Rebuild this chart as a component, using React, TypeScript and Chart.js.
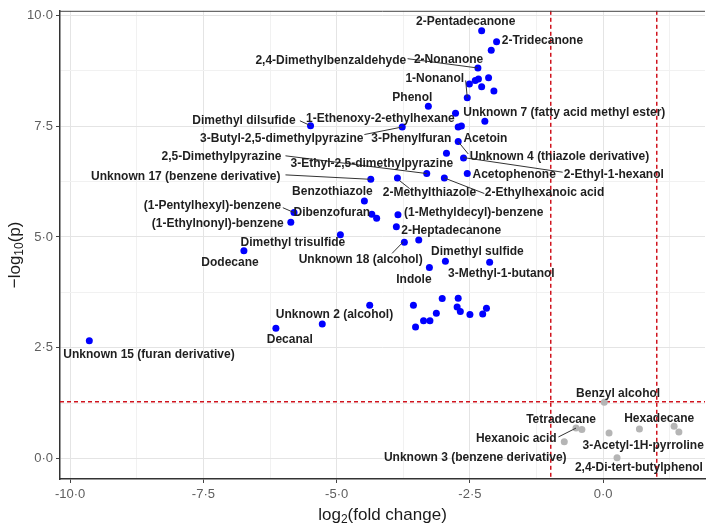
import React, { useEffect, useRef } from "react";
import { Chart, registerables } from "chart.js";

Chart.register(...registerables);

// Significant compounds (blue)
const sigLog2FC = [
  -2.28, -2.0, -2.1, -2.35, -2.15, -2.34, -2.4, -2.51, -2.55, -2.28, -2.05,
  -3.28, -2.77, -2.22, -2.72, -2.66, -3.77, -5.49, -2.72, -2.94, -2.62, -3.31,
  -2.55, -3.86, -2.98, -4.36, -3.85, -3.88, -3.73, -3.46, -4.48, -4.34, -4.25,
  -5.8, -5.86, -4.93, -3.26, -2.96, -2.13, -6.74, -4.38, -3.56, -3.52, -3.37,
  -3.25, -3.13, -3.02, -2.72, -2.74, -2.68, -2.5, -2.26, -2.19, -9.64, -6.14,
  -5.27,
];
const sigNegLogP = [
  9.65, 9.4, 9.21, 8.81, 8.59, 8.56, 8.53, 8.45, 8.14, 8.39, 8.29,
  7.95, 7.79, 7.61, 7.48, 7.5, 7.48, 7.51, 7.15, 6.89, 6.78, 6.43,
  6.43, 6.33, 6.33, 6.3, 5.5, 5.23, 4.88, 4.93, 5.81, 5.51, 5.42,
  5.55, 5.33, 5.05, 4.31, 4.45, 4.43, 4.69, 3.46, 3.46, 2.97, 3.11,
  3.11, 3.28, 3.61, 3.62, 3.42, 3.32, 3.25, 3.26, 3.39, 2.66, 2.94,
  3.04,
];

// Non-significant compounds (grey)
const nsLog2FC = [0.02, -0.51, -0.4, 0.11, -0.73, 0.68, 1.33, 1.42, 0.26];
const nsNegLogP = [1.27, 0.69, 0.66, 0.58, 0.38, 0.67, 0.73, 0.6, 0.02];

// Thresholds
const fcThresholds = [-1, 1];
const pThreshold = 1.301;

// Axis ticks
const xMajorTicks = [-10, -7.5, -5, -2.5, 0];
const yMajorTicks = [0, 2.5, 5, 7.5, 10];
const xAllGrid = [-10, -8.75, -7.5, -6.25, -5, -3.75, -2.5, -1.25, 0, 1.25];
const yAllGrid = [0, 1.25, 2.5, 3.75, 5, 6.25, 7.5, 8.75, 10];

// Compound labels (text centre, data coordinates)
const labelTexts = [
  "2-Pentadecanone", "2-Tridecanone", "2,4-Dimethylbenzaldehyde", "2-Nonanone",
  "1-Nonanol", "Phenol", "Unknown 7 (fatty acid methyl ester)", "Dimethyl dilsufide",
  "1-Ethenoxy-2-ethylhexane", "3-Butyl-2,5-dimethylpyrazine", "3-Phenylfuran", "Acetoin",
  "Unknown 4 (thiazole derivative)", "2,5-Dimethylpyrazine", "3-Ethyl-2,5-dimethylpyrazine",
  "Unknown 17 (benzene derivative)", "Acetophenone", "2-Ethyl-1-hexanol", "Benzothiazole",
  "2-Methylthiazole", "2-Ethylhexanoic acid", "(1-Pentylhexyl)-benzene", "Dibenzofuran",
  "(1-Ethylnonyl)-benzene", "(1-Methyldecyl)-benzene", "2-Heptadecanone",
  "Dimethyl trisulfide", "Dodecane", "Unknown 18 (alcohol)", "Dimethyl sulfide", "Indole",
  "3-Methyl-1-butanol", "Unknown 2 (alcohol)", "Decanal", "Unknown 15 (furan derivative)",
  "Benzyl alcohol", "Tetradecane", "Hexadecane", "Hexanoic acid", "3-Acetyl-1H-pyrroline",
  "Unknown 3 (benzene derivative)", "2,4-Di-tert-butylphenol",
];
const labelX = [
  -2.58, -1.14, -5.11, -2.9, -3.16, -3.58, -0.73, -6.74, -4.18, -6.03, -3.6, -2.21,
  -0.82, -7.16, -4.34, -7.83, -1.67, 0.2, -5.08, -3.26, -1.1, -7.33, -5.09, -7.23,
  -2.43, -2.85, -5.82, -7.0, -4.55, -2.36, -3.55, -1.91, -5.04, -5.88, -8.52, 0.28,
  -0.79, 1.05, -1.63, 0.75, -2.4, 0.67,
];
const labelY = [
  9.86, 9.42, 8.97, 9.0, 8.58, 8.15, 7.8, 7.62, 7.67, 7.22, 7.22, 7.22,
  6.8, 6.8, 6.65, 6.36, 6.41, 6.41, 6.03, 5.99, 5.99, 5.7, 5.54, 5.3,
  5.54, 5.14, 4.88, 4.43, 4.48, 4.66, 4.04, 4.17, 3.24, 2.69, 2.35, 1.47,
  0.89, 0.91, 0.45, 0.3, 0.03, -0.21,
];

// Label leader segments (data coordinates)
const segX1 = [-3.67, -2.58, -5.69, -4.48, -2.72, -2.62, -5.96, -5.96, -3.82, -2.98, -6.01, -3.75, -0.84];
const segY1 = [9.02, 8.53, 7.62, 7.31, 7.15, 6.79, 6.83, 6.4, 6.27, 6.33, 5.66, 4.89, 0.49];
const segX2 = [-2.35, -2.55, -5.49, -3.77, -2.53, -0.76, -3.31, -4.36, -3.63, -2.23, -5.8, -3.96, -0.51];
const segY2 = [8.81, 8.14, 7.51, 7.48, 6.87, 6.46, 6.43, 6.3, 6.09, 5.98, 5.55, 4.63, 0.69];

const FONT = '"Liberation Sans", Arial, sans-serif';
const THRESH_COLOR = "#d0141e";

const fmt = (v: number) => v.toFixed(1).replace(".", "\u00B7");
const isIn = (arr: number[], v: number) => arr.some((a) => Math.abs(a - v) < 1e-6);

function drawComposite(
  ctx: CanvasRenderingContext2D,
  parts: { t: string; sub?: boolean }[],
  size: number
) {
  const widths = parts.map((p) => {
    ctx.font = `${p.sub ? Math.round(size * 0.7) : size}px ${FONT}`;
    return ctx.measureText(p.t).width;
  });
  const total = widths.reduce((a, b) => a + b, 0);
  let x = -total / 2;
  parts.forEach((p, i) => {
    ctx.font = `${p.sub ? Math.round(size * 0.7) : size}px ${FONT}`;
    ctx.fillText(p.t, x, p.sub ? size * 0.3 : 0);
    x += widths[i];
  });
}

const overlayPlugin = {
  id: "volcanoOverlay",
  beforeDatasetsDraw(chart: any) {
    const { ctx, chartArea: a, scales } = chart;
    const xs = scales.x;
    const ys = scales.y;
    ctx.save();
    ctx.fillStyle = THRESH_COLOR;
    const dash = 4;
    const gap = 3;
    fcThresholds.forEach((v) => {
      const px = Math.round(xs.getPixelForValue(v));
      for (let y = a.top; y < a.bottom; y += dash + gap) {
        ctx.fillRect(px, y, 1.5, Math.min(dash, a.bottom - y));
      }
    });
    const py = Math.round(ys.getPixelForValue(pThreshold));
    for (let x = a.left; x < a.right; x += dash + gap) {
      ctx.fillRect(x, py, Math.min(dash, a.right - x), 1.5);
    }
    ctx.restore();
  },
  afterDatasetsDraw(chart: any) {
    const { ctx, scales } = chart;
    const xs = scales.x;
    const ys = scales.y;
    ctx.save();
    ctx.strokeStyle = "#333333";
    ctx.lineWidth = 1;
    for (let i = 0; i < segX1.length; i++) {
      ctx.beginPath();
      ctx.moveTo(xs.getPixelForValue(segX1[i]), ys.getPixelForValue(segY1[i]));
      ctx.lineTo(xs.getPixelForValue(segX2[i]), ys.getPixelForValue(segY2[i]));
      ctx.stroke();
    }
    ctx.fillStyle = "#1f1f1f";
    ctx.font = `bold 12px ${FONT}`;
    ctx.textAlign = "center";
    ctx.textBaseline = "middle";
    labelTexts.forEach((t, i) => {
      ctx.fillText(t, xs.getPixelForValue(labelX[i]), ys.getPixelForValue(labelY[i]));
    });
    ctx.restore();
  },
  afterDraw(chart: any) {
    const { ctx, chartArea: a } = chart;
    ctx.save();
    ctx.strokeStyle = "#444444";
    ctx.lineWidth = 1;
    ctx.beginPath();
    ctx.moveTo(a.left, a.top + 0.5);
    ctx.lineTo(a.right, a.top + 0.5);
    ctx.stroke();
    ctx.fillStyle = "#1a1a1a";
    ctx.textAlign = "left";
    ctx.textBaseline = "middle";
    ctx.save();
    ctx.translate((a.left + a.right) / 2, 515);
    drawComposite(ctx, [{ t: "log" }, { t: "2", sub: true }, { t: "(fold change)" }], 17);
    ctx.restore();
    ctx.save();
    ctx.translate(15, (a.top + a.bottom) / 2 + 10);
    ctx.rotate(-Math.PI / 2);
    drawComposite(ctx, [{ t: "\u2212log" }, { t: "10", sub: true }, { t: "(p)" }], 17);
    ctx.restore();
    ctx.restore();
  },
};

export default function App() {
  const canvasRef = useRef<HTMLCanvasElement | null>(null);

  useEffect(() => {
    document.body.style.margin = "0";
    const canvas = canvasRef.current;
    if (!canvas) return;
    const gridColor = (ctx: any, major: number[]) => {
      const v = ctx.tick ? ctx.tick.value : NaN;
      return isIn(major, v) ? "#e4e4e4" : "#f1f1f1";
    };
    const chart = new Chart(canvas, {
      type: "scatter",
      data: {
        datasets: [
          {
            label: "ns",
            data: nsLog2FC.map((x, i) => ({ x, y: nsNegLogP[i] })),
            backgroundColor: "#b5b5b5",
            borderWidth: 0,
            pointRadius: 3.5,
          },
          {
            label: "sig",
            data: sigLog2FC.map((x, i) => ({ x, y: sigNegLogP[i] })),
            backgroundColor: "#0000ff",
            borderWidth: 0,
            pointRadius: 3.5,
          },
        ],
      },
      options: {
        responsive: false,
        animation: false,
        devicePixelRatio: 1,
        layout: { padding: { top: 2, right: 3, left: 0, bottom: 0 } },
        plugins: {
          legend: { display: false },
          tooltip: { enabled: false },
        },
        scales: {
          x: {
            type: "linear",
            min: -10.19,
            max: 1.91,
            afterBuildTicks: (scale: any) => {
              scale.ticks = xAllGrid.map((v) => ({ value: v }));
            },
            afterFit: (scale: any) => {
              scale.height = 46;
            },
            ticks: {
              autoSkip: false,
              maxRotation: 0,
              padding: 4,
              color: "#5e5e5e",
              font: { family: FONT, size: 13 },
              callback: (v: any) => (isIn(xMajorTicks, Number(v)) ? fmt(Number(v)) : ""),
            },
            grid: {
              color: (c: any) => gridColor(c, xMajorTicks),
              tickColor: (c: any) => (c.tick && isIn(xMajorTicks, c.tick.value) ? "#444444" : "rgba(0,0,0,0)"),
              tickLength: 4,
              lineWidth: 1,
            },
            border: { color: "#333333", width: 1.5 },
          },
          y: {
            type: "linear",
            min: -0.458,
            max: 10.1,
            afterBuildTicks: (scale: any) => {
              scale.ticks = yAllGrid.map((v) => ({ value: v }));
            },
            afterFit: (scale: any) => {
              scale.width = 60;
            },
            ticks: {
              autoSkip: false,
              padding: 3,
              color: "#5e5e5e",
              font: { family: FONT, size: 13 },
              callback: (v: any) => (isIn(yMajorTicks, Number(v)) ? fmt(Number(v)) : ""),
            },
            grid: {
              color: (c: any) => gridColor(c, yMajorTicks),
              tickColor: (c: any) => (c.tick && isIn(yMajorTicks, c.tick.value) ? "#444444" : "rgba(0,0,0,0)"),
              tickLength: 4,
              lineWidth: 1,
            },
            border: { color: "#333333", width: 1.5 },
          },
        },
      } as any,
      plugins: [overlayPlugin],
    });
    return () => chart.destroy();
  }, []);

  return (
    <div style={{ width: 709, height: 525, background: "#ffffff" }}>
      <canvas ref={canvasRef} width={709} height={525} style={{ display: "block" }} />
    </div>
  );
}
